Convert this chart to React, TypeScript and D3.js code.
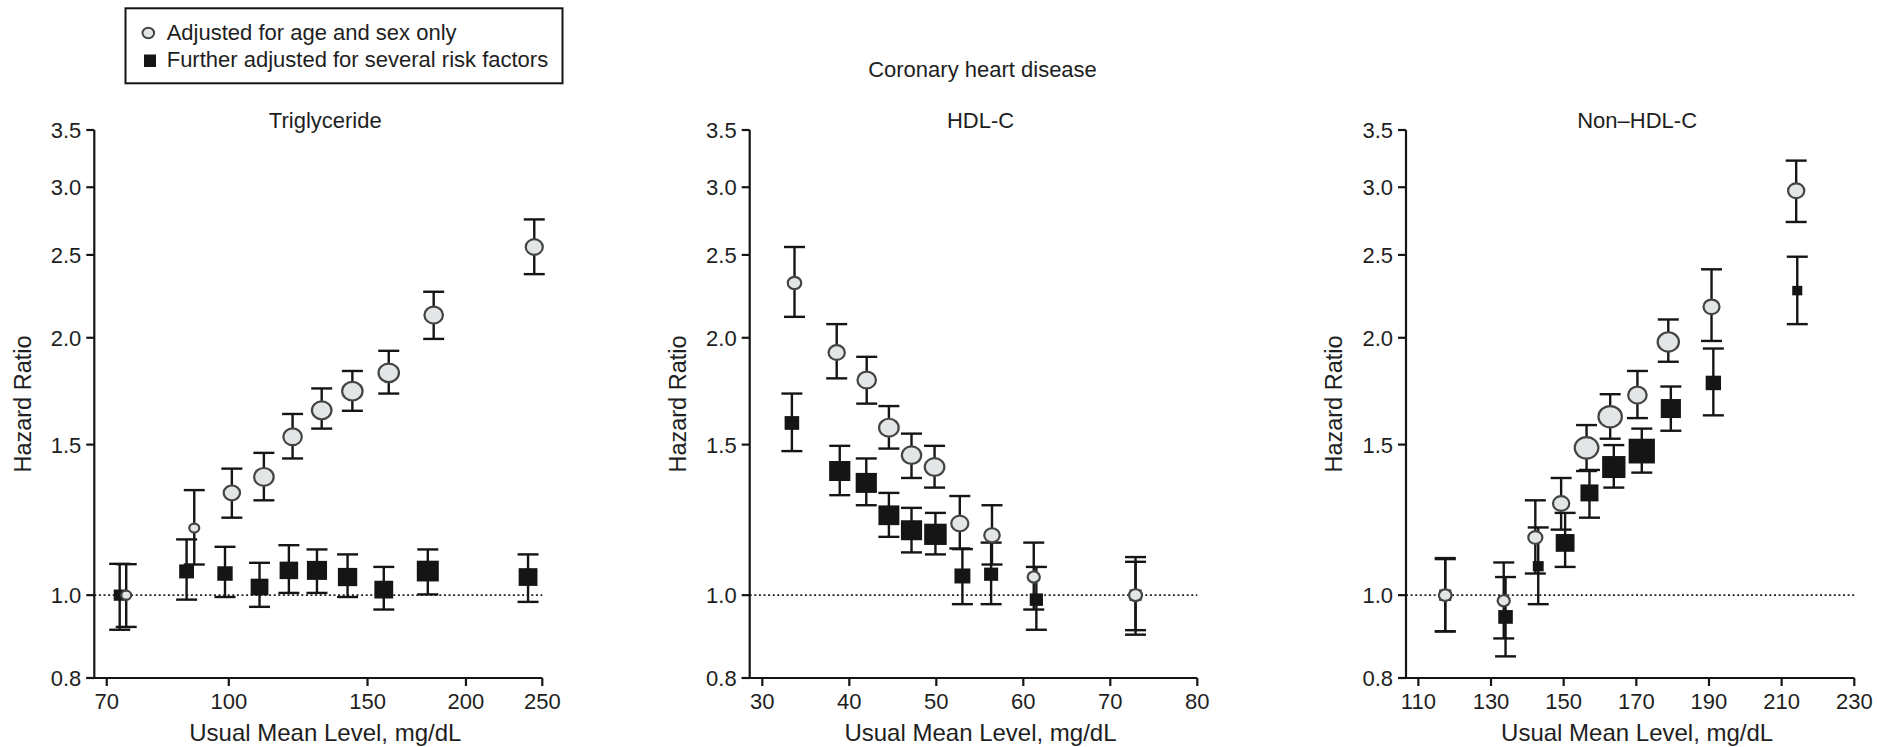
import React from "react";
import * as d3 from "d3";

const W = 1877;
const H = 747;

// ---------- Data ----------
// Triglyceride (log x)
const trigTicks = [70, 100, 150, 200, 250];
const trigAgeX = [74.1, 90.4, 100.9, 110.8, 120.5, 131.2, 143.5, 159.6, 182.0, 244.2];
const trigAgeHR = [1.0, 1.198, 1.317, 1.375, 1.532, 1.645, 1.732, 1.82, 2.126, 2.554];
const trigAgeLo = [0.918, 1.086, 1.232, 1.291, 1.445, 1.566, 1.643, 1.721, 1.994, 2.374];
const trigAgeHi = [1.087, 1.327, 1.406, 1.467, 1.629, 1.745, 1.829, 1.931, 2.264, 2.751];
const trigAgeWeight = [0.45, 0.45, 0.68, 0.8, 0.76, 0.8, 0.83, 0.83, 0.76, 0.71];
const trigAdjX = [72.7, 88.4, 98.9, 109.4, 119.2, 129.4, 141.5, 157.3, 178.9, 239.8];
const trigAdjHR = [1.0, 1.066, 1.06, 1.022, 1.069, 1.069, 1.05, 1.015, 1.067, 1.05];
const trigAdjLo = [0.911, 0.988, 0.995, 0.969, 1.006, 1.006, 0.995, 0.962, 1.002, 0.982];
const trigAdjHi = [1.088, 1.162, 1.139, 1.091, 1.144, 1.131, 1.116, 1.079, 1.131, 1.116];
const trigAdjWeight = [0.45, 0.56, 0.58, 0.67, 0.7, 0.76, 0.73, 0.71, 0.83, 0.71];

// HDL-C (linear x)
const hdlTicks = [30, 40, 50, 60, 70, 80];
const hdlAgeX = [33.7, 38.55, 42.0, 44.55, 47.15, 49.8, 52.7, 56.4, 61.2, 72.9];
const hdlAgeHR = [2.318, 1.922, 1.785, 1.57, 1.458, 1.412, 1.213, 1.175, 1.05, 1.0];
const hdlAgeLo = [2.116, 1.793, 1.675, 1.484, 1.371, 1.336, 1.134, 1.086, 0.962, 0.899];
const hdlAgeHi = [2.554, 2.075, 1.9, 1.664, 1.545, 1.495, 1.306, 1.274, 1.152, 1.108];
const hdlAgeWeight = [0.58, 0.68, 0.76, 0.8, 0.79, 0.8, 0.71, 0.65, 0.53, 0.56];
const hdlAdjX = [33.4, 38.9, 41.95, 44.55, 47.15, 49.9, 53.0, 56.3, 61.5, 72.9];
const hdlAdjHR = [1.59, 1.397, 1.353, 1.24, 1.191, 1.178, 1.053, 1.058, 0.988, 1.0];
const hdlAdjLo = [1.474, 1.309, 1.274, 1.17, 1.122, 1.116, 0.976, 0.976, 0.911, 0.91];
const hdlAdjHi = [1.721, 1.495, 1.445, 1.317, 1.265, 1.248, 1.132, 1.152, 1.079, 1.094];
const hdlAdjWeight = [0.55, 0.8, 0.8, 0.79, 0.8, 0.85, 0.6, 0.53, 0.5, 0.45];

// Non-HDL-C (linear x)
const nonTicks = [110, 130, 150, 170, 190, 210, 230];
const nonAgeX = [117.4, 133.5, 142.2, 149.3, 156.3, 162.8, 170.3, 178.8, 190.7, 214.0];
const nonAgeHR = [1.0, 0.985, 1.168, 1.28, 1.487, 1.617, 1.714, 1.978, 2.174, 2.972];
const nonAgeLo = [0.907, 0.89, 1.06, 1.193, 1.397, 1.524, 1.611, 1.875, 1.983, 2.732];
const nonAgeHi = [1.105, 1.092, 1.291, 1.371, 1.581, 1.718, 1.829, 2.101, 2.405, 3.223];
const nonAgeWeight = [0.55, 0.53, 0.6, 0.68, 0.95, 0.94, 0.76, 0.86, 0.67, 0.68];
const nonAdjX = [117.4, 134.0, 143.0, 150.4, 157.1, 163.8, 171.5, 179.5, 191.2, 214.3];
const nonAdjHR = [1.0, 0.943, 1.081, 1.151, 1.317, 1.412, 1.474, 1.653, 1.771, 2.271];
const nonAdjLo = [0.907, 0.848, 0.976, 1.079, 1.232, 1.336, 1.391, 1.557, 1.623, 2.075];
const nonAdjHi = [1.102, 1.05, 1.2, 1.248, 1.401, 1.498, 1.566, 1.754, 1.943, 2.488];
const nonAdjWeight = [0.45, 0.55, 0.41, 0.71, 0.68, 0.88, 0.99, 0.76, 0.58, 0.38];

const yTicks = [0.8, 1.0, 1.5, 2.0, 2.5, 3.0, 3.5];
const panelTitles = ["Triglyceride", "HDL-C", "Non\u2013HDL-C"];
const mainTitle = "Coronary heart disease";
const legendLabels = ["Adjusted for age and sex only", "Further adjusted for several risk factors"];
const xTitle = "Usual Mean Level, mg/dL";
const yTitle = "Hazard Ratio";

// ---------- Layout ----------
const FONT = "'Liberation Sans', Arial, Helvetica, sans-serif";
const TXT = "#1e1e1e";
const INK = "#151515";
const Y_TOP = 130;
const Y_BOT = 678;

const y = d3.scaleLog().domain([0.8, 3.5]).range([Y_BOT, Y_TOP]);
const sizeScale = d3.scaleLinear().domain([0, 1]).range([0, 25]);

type Series = { x: number[]; hr: number[]; lo: number[]; hi: number[]; w: number[] };

const mk = (x: number[], hr: number[], lo: number[], hi: number[], w: number[]): Series => ({ x, hr, lo, hi, w });

const panels = [
  {
    title: panelTitles[0],
    x: d3.scaleLog().domain([67.5, 250]).range([94.3, 542.3]),
    ticks: trigTicks,
    age: mk(trigAgeX, trigAgeHR, trigAgeLo, trigAgeHi, trigAgeWeight),
    adj: mk(trigAdjX, trigAdjHR, trigAdjLo, trigAdjHi, trigAdjWeight),
  },
  {
    title: panelTitles[1],
    x: d3.scaleLinear().domain([28.55, 80]).range([749.7, 1197.3]),
    ticks: hdlTicks,
    age: mk(hdlAgeX, hdlAgeHR, hdlAgeLo, hdlAgeHi, hdlAgeWeight),
    adj: mk(hdlAdjX, hdlAdjHR, hdlAdjLo, hdlAdjHi, hdlAdjWeight),
  },
  {
    title: panelTitles[2],
    x: d3.scaleLinear().domain([106.6, 230]).range([1406, 1854.3]),
    ticks: nonTicks,
    age: mk(nonAgeX, nonAgeHR, nonAgeLo, nonAgeHi, nonAgeWeight),
    adj: mk(nonAdjX, nonAdjHR, nonAdjLo, nonAdjHi, nonAdjWeight),
  },
];

function ErrorBars({ s, xs }: { s: Series; xs: (v: number) => number }) {
  return (
    <g stroke={INK} strokeWidth={2.4} fill="none">
      {s.x.map((xv, i) => {
        const cx = xs(xv);
        const yh = y(s.hi[i]);
        const yl = y(s.lo[i]);
        return (
          <g key={i}>
            <line x1={cx} x2={cx} y1={yh} y2={yl} />
            <line x1={cx - 10.5} x2={cx + 10.5} y1={yh} y2={yh} />
            <line x1={cx - 10.5} x2={cx + 10.5} y1={yl} y2={yl} />
          </g>
        );
      })}
    </g>
  );
}

function Panel({ p }: { p: (typeof panels)[number] }) {
  const xs = p.x as (v: number) => number;
  const [x0, x1] = p.x.range();
  const cx = (x0 + x1) / 2 + 7;
  return (
    <g>
      {/* reference line */}
      <line x1={x0} x2={x1} y1={y(1)} y2={y(1)} stroke="#222" strokeWidth={1.9} strokeDasharray="2 2.6" />
      {/* axes */}
      <g stroke={INK} strokeWidth={2.2} fill="none">
        <line x1={x0} x2={x0} y1={Y_BOT} y2={Y_TOP} />
        <line x1={x0 - 8} x2={x1} y1={Y_BOT} y2={Y_BOT} />
        {yTicks.map((t) => (
          <line key={t} x1={x0 - 8} x2={x0} y1={y(t)} y2={y(t)} />
        ))}
        {p.ticks.map((t) => (
          <line key={t} x1={xs(t)} x2={xs(t)} y1={Y_BOT} y2={Y_BOT + 8} />
        ))}
      </g>
      <g fontFamily={FONT} fontSize={22} fill={TXT}>
        {yTicks.map((t) => (
          <text key={t} x={x0 - 13} y={y(t)} dy="0.36em" textAnchor="end">
            {d3.format(".1f")(t)}
          </text>
        ))}
        {p.ticks.map((t) => (
          <text key={t} x={xs(t)} y={708.5} textAnchor="middle">
            {t}
          </text>
        ))}
        <text x={cx} y={128.3} textAnchor="middle">
          {p.title}
        </text>
      </g>
      <text x={cx} y={741} textAnchor="middle" fontFamily={FONT} fontSize={24} fill={TXT}>
        {xTitle}
      </text>
      <text
        transform={`translate(${x0 - 72},${(Y_TOP + Y_BOT) / 2}) rotate(-90)`}
        textAnchor="middle"
        dy="0.36em"
        fontFamily={FONT}
        fontSize={23.5}
        fill={TXT}
      >
        {yTitle}
      </text>
      {/* multivariable-adjusted: squares */}
      <ErrorBars s={p.adj} xs={xs} />
      <g fill={INK}>
        {p.adj.x.map((xv, i) => {
          const sz = sizeScale(p.adj.w[i]);
          return <rect key={i} x={xs(xv) - sz * 0.53} y={y(p.adj.hr[i]) - sz / 2} width={sz * 1.06} height={sz} />;
        })}
      </g>
      {/* age/sex adjusted: circles */}
      <ErrorBars s={p.age} xs={xs} />
      <g fill="#e2e6e6" stroke="#444" strokeWidth={2.2}>
        {p.age.x.map((xv, i) => {
          const r = sizeScale(p.age.w[i]) / 2 - 1.1;
          return <ellipse key={i} cx={xs(xv)} cy={y(p.age.hr[i])} rx={r * 1.1} ry={r} />;
        })}
      </g>
    </g>
  );
}

export default function App() {
  return (
    <svg
      width={W}
      height={H}
      viewBox={`0 0 ${W} ${H}`}
      style={{ position: "absolute", left: 0, top: 0, background: "#fff" }}
    >
      <rect x={0} y={0} width={W} height={H} fill="#fff" />
      {/* legend */}
      <g>
        <rect x={125.5} y={8.3} width={437} height={75} fill="#fff" stroke={INK} strokeWidth={2} />
        <ellipse cx={148.3} cy={33} rx={5.8} ry={5.3} fill="#e2e6e6" stroke="#444" strokeWidth={2} />
        <rect x={144} y={54.5} width={12} height={12.5} fill={INK} />
        <g fontFamily={FONT} fontSize={22} fill={TXT}>
          <text x={166.7} y={39.5}>{legendLabels[0]}</text>
          <text x={166.7} y={67}>{legendLabels[1]}</text>
        </g>
      </g>
      <text x={982.5} y={76.7} textAnchor="middle" fontFamily={FONT} fontSize={22} fill={TXT}>
        {mainTitle}
      </text>
      {panels.map((p, i) => (
        <Panel key={i} p={p} />
      ))}
    </svg>
  );
}
